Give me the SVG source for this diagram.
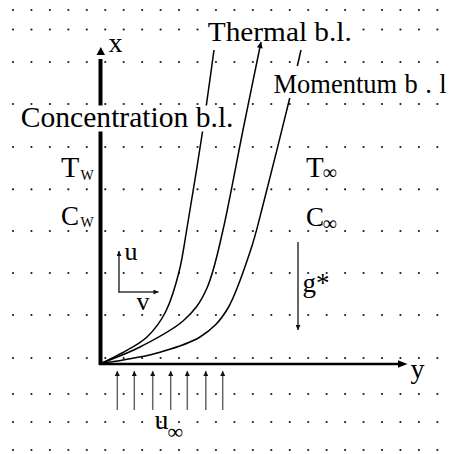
<svg xmlns="http://www.w3.org/2000/svg" xmlns:xlink="http://www.w3.org/1999/xlink" width="451" height="454" viewBox="0 0 451 454" font-family="'Liberation Serif', 'Times New Roman', Times, 'DejaVu Serif', serif">
  <defs>
    <style>
      .t { font-family: 'Liberation Serif', 'Times New Roman', Times, serif; fill: #000; }
      .dot { fill: #1a1a1a; }
      .curve { fill: none; stroke: #000; stroke-width: 1.5; }
      .mask { fill: #fff; }
      .small { stroke: #333; stroke-width: 1.5; fill: none; }
      .inflow { stroke: #666; stroke-width: 1.5; fill: none; }
      .head { fill: #000; }
    </style>
    <marker id="arr" viewBox="0 0 10 10" refX="10" refY="5" markerUnits="userSpaceOnUse" markerWidth="8" markerHeight="6" orient="auto">
      <path d="M0,0 L10,5 L0,10 z" fill="#000"/>
    </marker>
    <marker id="arrs" viewBox="0 0 10 10" refX="10" refY="5" markerUnits="userSpaceOnUse" markerWidth="7" markerHeight="5" orient="auto">
      <path d="M0,0 L10,5 L0,10 z" fill="#111"/>
    </marker>
    <g id="row">
      <circle class="dot" cx="13" cy="0" r="1.1"/>
      <circle class="dot" cx="31.45" cy="0" r="1.1"/>
      <circle class="dot" cx="49.9" cy="0" r="1.1"/>
      <circle class="dot" cx="68.35" cy="0" r="1.1"/>
      <circle class="dot" cx="86.8" cy="0" r="1.1"/>
      <circle class="dot" cx="105.25" cy="0" r="1.1"/>
      <circle class="dot" cx="123.7" cy="0" r="1.1"/>
      <circle class="dot" cx="142.15" cy="0" r="1.1"/>
      <circle class="dot" cx="160.6" cy="0" r="1.1"/>
      <circle class="dot" cx="179.05" cy="0" r="1.1"/>
      <circle class="dot" cx="197.5" cy="0" r="1.1"/>
      <circle class="dot" cx="215.95" cy="0" r="1.1"/>
      <circle class="dot" cx="234.4" cy="0" r="1.1"/>
      <circle class="dot" cx="252.85" cy="0" r="1.1"/>
      <circle class="dot" cx="271.3" cy="0" r="1.1"/>
      <circle class="dot" cx="289.75" cy="0" r="1.1"/>
      <circle class="dot" cx="308.2" cy="0" r="1.1"/>
      <circle class="dot" cx="326.65" cy="0" r="1.1"/>
      <circle class="dot" cx="345.1" cy="0" r="1.1"/>
      <circle class="dot" cx="363.55" cy="0" r="1.1"/>
      <circle class="dot" cx="382" cy="0" r="1.1"/>
      <circle class="dot" cx="400.45" cy="0" r="1.1"/>
      <circle class="dot" cx="418.9" cy="0" r="1.1"/>
      <circle class="dot" cx="437.35" cy="0" r="1.1"/>
    </g>
  </defs>

  <rect x="0" y="0" width="451" height="454" fill="#fff"/>

  <g id="grid">
    <use xlink:href="#row" y="10"/>
    <use xlink:href="#row" y="29.5"/>
    <use xlink:href="#row" y="62"/>
    <use xlink:href="#row" y="104"/>
    <use xlink:href="#row" y="147"/>
    <use xlink:href="#row" y="189.3"/>
    <use xlink:href="#row" y="231"/>
    <use xlink:href="#row" y="273"/>
    <use xlink:href="#row" y="315"/>
    <use xlink:href="#row" y="358"/>
    <use xlink:href="#row" y="394"/>
    <use xlink:href="#row" y="422"/>
    <use xlink:href="#row" y="450"/>
  </g>

  <g id="label-thermal">
    <rect class="mask" x="205" y="15" width="148" height="33"/>
    <text class="t" x="207.8" y="40.5" font-size="26.5" textLength="144" lengthAdjust="spacingAndGlyphs">Thermal b.l.</text>
  </g>

  <g id="axes">
    <line x1="100.5" y1="365" x2="100.5" y2="59" stroke="#000" stroke-width="4"/>
    <polygon class="head" points="96.5,55 100.8,47 105,55"/>
    <line x1="99" y1="364" x2="399" y2="364" stroke="#000" stroke-width="2.5"/>
    <polygon class="head" points="398,360.3 407.5,364 398,367.7"/>
  </g>

  <g id="connectors">
    <path id="curve-concentration" class="curve" d="M102,363 C105.3,361.3 114.5,357.3 122,353 C129.5,348.7 139.7,344 147,337 C154.3,330 160.7,321.8 166,311 C171.3,300.2 175.5,285.8 179,272 C182.5,258.2 183.2,250.8 187,228 C190.8,205.2 197.5,164.7 202,135 C206.5,105.3 212,64.2 214,50"/>
    <path id="curve-thermal" class="curve" d="M102,363 C108.3,360.3 126.5,354 140,347 C153.5,340 171.8,330.8 183,321 C194.2,311.2 200.3,303.2 207,288 C213.7,272.8 217,256.3 223,230 C229,203.7 236.7,161.3 243,130 C249.3,98.7 258,56.7 261,42" marker-end="url(#arr)"/>
    <path id="curve-momentum" class="curve" d="M102,363 C105.5,362.5 113.8,361.7 123,360 C132.2,358.3 144.2,356.8 157,353 C169.8,349.2 188.2,344.5 200,337 C211.8,329.5 219.7,322.2 228,308 C236.3,293.8 244.2,269.2 250,252 C255.8,234.8 256.3,230.8 263,205 C269.7,179.2 283.7,122.8 290,97 C296.3,71.2 299.2,57.8 301,50"/>
  </g>

  <g id="label-concentration">
    <rect class="mask" x="18" y="105.5" width="217" height="26"/>
    <text class="t" x="20.8" y="127" font-size="29" textLength="212.7" lengthAdjust="spacingAndGlyphs">Concentration b.l.</text>
  </g>

  <g id="label-momentum">
    <rect class="mask" x="271" y="66" width="180" height="32"/>
    <text class="t" x="273.5" y="93" font-size="26.5">Momentum <tspan x="404.5" textLength="42" lengthAdjust="spacing">b.l</tspan></text>
  </g>

  <g id="label-x">
    <text class="t" x="108.5" y="52" font-size="28">x</text>
  </g>
  <g id="label-y">
    <text class="t" x="410.5" y="378" font-size="28">y</text>
  </g>

  <g id="wall">
    <text class="t" x="61" y="176.7" font-size="30">T<tspan x="80.5" y="180" font-size="14">W</tspan></text>
    <text class="t" x="61" y="225" font-size="27">C<tspan x="80.5" y="227.3" font-size="14">W</tspan></text>
  </g>

  <g id="ambient">
    <text class="t" x="306" y="176.7" font-size="29">T<tspan x="322.5" y="179" font-size="20">∞</tspan></text>
    <text class="t" x="306" y="226" font-size="27">C<tspan x="322.5" y="230" font-size="20">∞</tspan></text>
  </g>

  <g id="velocity">
    <line class="small" x1="119" y1="292.5" x2="119" y2="251" marker-end="url(#arrs)"/>
    <line class="small" x1="118.3" y1="292" x2="158.5" y2="292" marker-end="url(#arrs)"/>
    <text class="t" x="124.5" y="260" font-size="26">u</text>
    <text class="t" x="136.5" y="310" font-size="26">v</text>
  </g>

  <g id="gravity">
    <line class="small" x1="298" y1="242" x2="298" y2="330" stroke="#000" marker-end="url(#arrs)"/>
    <text class="t" x="302.5" y="292" font-size="27">g*</text>
  </g>

  <g id="inflow">
    <line class="inflow" x1="117.3" y1="410" x2="117.3" y2="371" marker-end="url(#arrs)"/>
    <line class="inflow" x1="134.3" y1="410" x2="134.3" y2="371" marker-end="url(#arrs)"/>
    <line class="inflow" x1="152.7" y1="410" x2="152.7" y2="371" marker-end="url(#arrs)"/>
    <line class="inflow" x1="170.7" y1="410" x2="170.7" y2="371" marker-end="url(#arrs)"/>
    <line class="inflow" x1="187.3" y1="410" x2="187.3" y2="371" marker-end="url(#arrs)"/>
    <line class="inflow" x1="205.8" y1="410" x2="205.8" y2="371" marker-end="url(#arrs)"/>
    <line class="inflow" x1="222.7" y1="410" x2="222.7" y2="371" marker-end="url(#arrs)"/>
    <text class="t" x="154.5" y="429" font-size="28">u<tspan x="167.5" y="439" font-size="22">∞</tspan></text>
  </g>
</svg>
